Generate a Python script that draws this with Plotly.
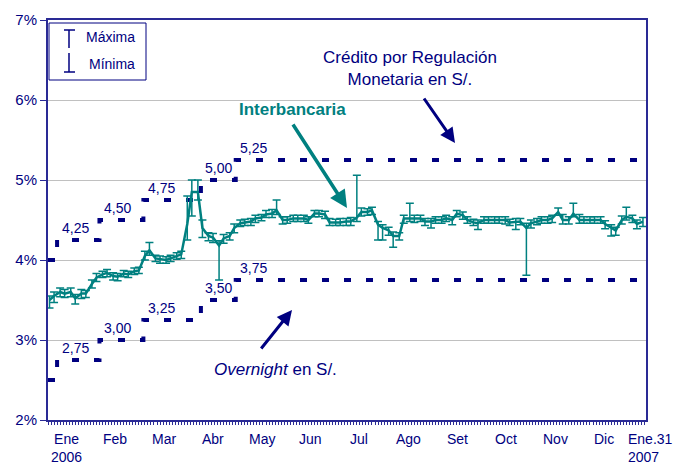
import pandas as pd
import plotly.graph_objects as go

# ---------------- data ----------------
step_dates = ["2006-01-01", "2006-01-07", "2006-02-04", "2006-03-05", "2006-04-12", "2006-05-05"]
credito = [4.00, 4.25, 4.50, 4.75, 5.00, 5.25]      # Crédito por Regulación Monetaria
overnight = [2.50, 2.75, 3.00, 3.25, 3.50, 3.75]    # Overnight
end_date = "2007-01-31"

# Interbank rate, sampled Mondays and Thursdays
inter = [3.50, 3.55, 3.60, 3.58, 3.60, 3.52, 3.58, 3.58, 3.70, 3.78,
         3.82, 3.84, 3.80, 3.79, 3.83, 3.82, 3.86, 3.87, 4.05, 4.12,
         4.02, 4.01, 4.00, 4.02, 4.05, 4.07, 4.45, 4.85, 4.85, 4.40,
         4.30, 4.28, 4.18, 4.27, 4.30, 4.40, 4.46, 4.47, 4.48, 4.52,
         4.53, 4.57, 4.58, 4.62, 4.50, 4.50, 4.52, 4.52, 4.52, 4.50,
         4.58, 4.58, 4.57, 4.47, 4.47, 4.47, 4.48, 4.48, 4.53, 4.60,
         4.60, 4.62, 4.44, 4.40, 4.37, 4.30, 4.30, 4.52, 4.52, 4.52,
         4.52, 4.48, 4.48, 4.50, 4.50, 4.52, 4.50, 4.58, 4.56, 4.50,
         4.47, 4.46, 4.50, 4.50, 4.50, 4.50, 4.50, 4.47, 4.48, 4.48,
         4.40, 4.46, 4.48, 4.50, 4.50, 4.52, 4.60, 4.50, 4.50, 4.58,
         4.50, 4.50, 4.50, 4.50, 4.50, 4.45, 4.40, 4.37, 4.50, 4.54,
         4.52, 4.45, 4.48]
err_max = [0.05, 0.05, 0.05, 0.05, 0.05, 0.05, 0.05, 0.04, 0.05, 0.05,
           0.04, 0.04, 0.04, 0.04, 0.04, 0.04, 0.04, 0.04, 0.06, 0.10,
           0.04, 0.04, 0.04, 0.04, 0.04, 0.04, 0.35, 0.15, 0.15, 0.10,
           0.04, 0.05, 0.06, 0.05, 0.04, 0.05, 0.04, 0.04, 0.04, 0.04,
           0.04, 0.05, 0.05, 0.13, 0.04, 0.04, 0.04, 0.04, 0.04, 0.04,
           0.04, 0.04, 0.04, 0.05, 0.04, 0.05, 0.04, 0.05, 0.53, 0.05,
           0.04, 0.04, 0.04, 0.04, 0.04, 0.05, 0.04, 0.04, 0.19, 0.04,
           0.04, 0.04, 0.04, 0.04, 0.04, 0.04, 0.04, 0.04, 0.04, 0.04,
           0.04, 0.04, 0.04, 0.04, 0.04, 0.04, 0.04, 0.04, 0.04, 0.04,
           0.06, 0.04, 0.04, 0.04, 0.04, 0.04, 0.05, 0.07, 0.04, 0.13,
           0.07, 0.04, 0.04, 0.04, 0.04, 0.04, 0.04, 0.04, 0.05, 0.12,
           0.04, 0.05, 0.05]
err_min = [0.10, 0.08, 0.06, 0.05, 0.06, 0.07, 0.06, 0.05, 0.05, 0.05,
           0.04, 0.05, 0.05, 0.05, 0.04, 0.04, 0.04, 0.04, 0.05, 0.06,
           0.04, 0.05, 0.04, 0.04, 0.04, 0.05, 0.20, 0.30, 0.10, 0.12,
           0.06, 0.06, 0.43, 0.06, 0.05, 0.06, 0.04, 0.04, 0.05, 0.05,
           0.04, 0.04, 0.05, 0.05, 0.05, 0.04, 0.04, 0.04, 0.04, 0.04,
           0.04, 0.04, 0.05, 0.04, 0.04, 0.04, 0.05, 0.05, 0.05, 0.05,
           0.04, 0.05, 0.19, 0.15, 0.06, 0.14, 0.05, 0.06, 0.04, 0.05,
           0.04, 0.05, 0.08, 0.04, 0.04, 0.04, 0.06, 0.04, 0.05, 0.04,
           0.04, 0.08, 0.04, 0.04, 0.04, 0.04, 0.05, 0.04, 0.10, 0.04,
           0.59, 0.06, 0.04, 0.04, 0.04, 0.05, 0.04, 0.05, 0.05, 0.04,
           0.04, 0.04, 0.04, 0.04, 0.04, 0.06, 0.10, 0.06, 0.05, 0.04,
           0.05, 0.06, 0.06]

month_labels = ["Ene<br>2006", "Feb", "Mar", "Abr", "May", "Jun", "Jul",
                "Ago", "Set", "Oct", "Nov", "Dic"]
last_label = "Ene.31<br>2007"
y_ticks = [2, 3, 4, 5, 6, 7]

# ---------------- styling ----------------
NAVY = "#000080"
AXIS = "#2a2a95"
TEAL = "#008080"
FONT = "Arial, Liberation Sans, sans-serif"

dates = pd.date_range("2006-01-02", end_date, freq="W-MON").union(
    pd.date_range("2006-01-02", end_date, freq="W-THU"))
assert len(dates) == len(inter)

sx = list(step_dates) + [end_date]
fig = go.Figure()
for levels in (credito, overnight):
    fig.add_trace(go.Scatter(
        x=sx, y=list(levels) + [levels[-1]], mode="lines", line_shape="hv",
        line=dict(color=NAVY, width=4, dash="7px,15px"), hoverinfo="skip"))

fig.add_trace(go.Scatter(
    x=dates, y=inter, mode="lines",
    line=dict(color=TEAL, width=2.5),
    error_y=dict(type="data", symmetric=False, array=err_max, arrayminus=err_min,
                 color=TEAL, thickness=1.5, width=4)))

# level labels
for levels in (credito, overnight):
    for d, v in zip(step_dates[1:], levels[1:]):
        fig.add_annotation(x=d, y=v, text=f"{v:.2f}".replace(".", ","),
                           showarrow=False, xshift=18, yshift=12,
                           xanchor="center", yanchor="middle",
                           font=dict(size=14, color=NAVY, family=FONT))

L, R, T, B = 48, 44, 20, 45
W, H = 690, 465
pw, ph = W - L - R, H - T - B


def px(x):
    return (x - L) / pw


def py(y):
    return (H - B - y) / ph


def note(x, y, text, size=14, color=NAVY, xanchor="center", yanchor="middle", align="center"):
    fig.add_annotation(xref="paper", yref="paper", x=px(x), y=py(y), text=text,
                       showarrow=False, xanchor=xanchor, yanchor=yanchor, align=align,
                       font=dict(size=size, color=color, family=FONT))


def arrow(hx, hy, tx, ty, color, width):
    fig.add_annotation(xref="paper", yref="paper", x=px(hx), y=py(hy),
                       ax=tx - hx, ay=ty - hy, text="", showarrow=True,
                       arrowhead=2, arrowsize=1, arrowwidth=width, arrowcolor=color)


# x labels
for i, lab in enumerate(month_labels):
    note(66 + i * 48.9, 429, lab, yanchor="top")
note(626, 429, last_label, xanchor="left", yanchor="top", align="left")

# text annotations
note(410, 68, "Crédito por Regulación<br>Monetaria en S/.", size=17)
arrow(455, 143, 423, 97, NAVY, 3)
note(292, 109, "<b>Interbancaria</b>", size=17, color=TEAL)
arrow(347, 208, 292, 123, TEAL, 3.5)
note(275, 369, "<i>Overnight</i> en S/.", size=17)
arrow(292, 310, 260, 350, NAVY, 3)

# legend box
shapes = [
    dict(type="rect", xref="paper", yref="paper", x0=px(49), x1=px(146), y0=py(80), y1=py(23),
         line=dict(color=NAVY, width=1), fillcolor="white", layer="above"),
    dict(type="line", xref="paper", yref="paper", x0=px(69), x1=px(69), y0=py(30), y1=py(48),
         line=dict(color=NAVY, width=1.5), layer="above"),
    dict(type="line", xref="paper", yref="paper", x0=px(64), x1=px(75), y0=py(30), y1=py(30),
         line=dict(color=NAVY, width=1.5), layer="above"),
    dict(type="line", xref="paper", yref="paper", x0=px(69), x1=px(69), y0=py(53), y1=py(72),
         line=dict(color=NAVY, width=1.5), layer="above"),
    dict(type="line", xref="paper", yref="paper", x0=px(64), x1=px(75), y0=py(72), y1=py(72),
         line=dict(color=NAVY, width=1.5), layer="above"),
]
note(110, 37, "Máxima", size=14)
note(112, 64, "Mínima", size=14)

fig.update_layout(
    width=W, height=H, margin=dict(l=L, r=R, t=T, b=B),
    paper_bgcolor="white", plot_bgcolor="white", showlegend=False, shapes=shapes,
    font=dict(family=FONT, color=NAVY),
    xaxis=dict(range=["2006-01-01", end_date], showgrid=False, zeroline=False,
               showline=True, linecolor=AXIS, linewidth=2, mirror=True,
               showticklabels=False, ticks="outside", ticklen=3, tickcolor=AXIS,
               tick0="2006-01-01", dtick=2 * 86400000),
    yaxis=dict(range=[2, 7], tickvals=y_ticks, ticktext=[f"{v}%" for v in y_ticks],
               showgrid=True, gridcolor="#c0c0c0", gridwidth=1, zeroline=False,
               showline=True, linecolor=AXIS, linewidth=2, mirror=True,
               ticks="outside", ticklen=6, tickcolor=AXIS,
               tickfont=dict(size=15, color=NAVY, family=FONT)),
)

fig.write_html("out.html", config={"displayModeBar": False},
               post_script="document.body.style.margin='0';document.body.style.overflow='hidden';")
